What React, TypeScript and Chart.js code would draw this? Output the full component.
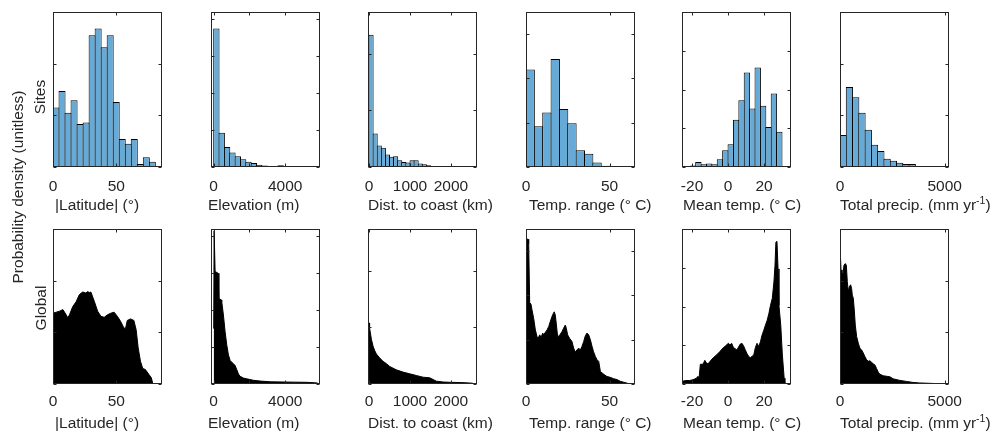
import React, { useEffect, useRef } from "react";
import { Chart, registerables } from "chart.js";

Chart.register(...registerables);

const FONT = '"Liberation Sans", Arial, Helvetica, sans-serif';
const AXIS_COLOR = "#262626";
const BAR_FILL = "rgb(102,170,215)";
const FONT_SIZE = 15.5;

// ---------- axis definitions ----------
const xTitles = [
  "|Latitude| (°)",
  "Elevation (m)",
  "Dist. to coast (km)",
  "Temp. range (° C)",
  "Mean temp. (° C)",
  "Total precip. (mm yr",
];
const xTitleSup = ["", "", "", "", "", "-1"];
const xTitleTail = ["", "", "", "", "", ")"];
const xMins = [0, -150, -25, 0, -25.6, 0];
const xMaxs = [86, 5950, 2635, 65.2, 35, 5205];
const xTickValues = [
  [0, 50],
  [0, 2000, 4000],
  [0, 1000, 2000],
  [0, 50],
  [-20, 0, 20],
  [0, 5000],
];
const xTickLabels = [
  ["0", "50"],
  ["0", "", "4000"],
  ["0", "1000", "2000"],
  ["0", "50"],
  ["-20", "0", "20"],
  ["0", "5000"],
];
const yMaxs = [3, 4.2, 2.74, 3.5, 4, 3];

// ---------- Sites histograms (bin start, bin width, heights) ----------
const siteBinStarts = [0, 0, 0, 0, -21, 0];
const siteBinWidths = [4.75, 300, 100, 5, 3, 300];
const latSites = [1.15, 1.47, 1.05, 1.29, 0.83, 0.86, 2.55, 2.68, 2.32, 2.55, 1.26, 0.54, 0.45, 0.54, 0.06, 0.19, 0.1];
const elevSites = [3.75, 0.93, 0.54, 0.39, 0.29, 0.21, 0.14, 0.11, 0.06, 0.04, 0.03, 0.02, 0.045, 0.02, 0.01, 0.01, 0.008, 0.005];
const coastSites = [2.34, 0.59, 0.38, 0.34, 0.22, 0.18, 0.19, 0.12, 0.09, 0.08, 0.12, 0.12, 0.06, 0.05, 0.03, 0.012, 0.012, 0.006, 0.018, 0.006, 0.006, 0.003, 0.003, 0.006, 0.003];
const rangeSites = [2.2, 0.92, 1.23, 2.44, 1.31, 0.99, 0.38, 0.3, 0.1, 0.03, 0.015, 0.015];
const meanSites = [0.04, 0.13, 0.07, 0.09, 0.07, 0.2, 0.43, 0.59, 1.22, 1.72, 2.44, 1.51, 2.57, 1.58, 1.03, 1.9, 0.91];
const precipSites = [0.62, 1.55, 1.35, 1.05, 0.72, 0.43, 0.31, 0.16, 0.12, 0.08, 0.06, 0.06];
const siteHeights = [latSites, elevSites, coastSites, rangeSites, meanSites, precipSites];

// ---------- Global densities ----------
const latGlobalX = [0, 2.6, 5.2, 7.8, 10.4, 11.7, 13, 15.6, 18.2, 20.8, 23.4, 26, 27.3, 28.6, 29.9, 32.6, 35.2, 37.8, 40.4, 43, 45.6, 48.2, 50.8, 53.4, 56, 57.3, 58.6, 61.2, 63.8, 65.6, 67.2, 69, 70.8, 72.9, 75.5, 77.6, 78.6, 79.4];
const latGlobalY = [1.37, 1.39, 1.41, 1.44, 1.34, 1.28, 1.34, 1.5, 1.59, 1.73, 1.78, 1.76, 1.79, 1.77, 1.78, 1.6, 1.41, 1.31, 1.29, 1.34, 1.37, 1.39, 1.31, 1.21, 1.08, 1.08, 1.23, 1.26, 1.23, 1.05, 0.7, 0.44, 0.3, 0.28, 0.19, 0.12, 0.02, 0];

const elevGlobalX = [0, 25, 55, 80, 250, 290, 420, 451, 545, 638, 732, 825, 919, 1012, 1106, 1199, 1292, 1386, 1479, 1666, 1853, 2227, 2600, 3160, 4466, 5213, 5773, 5923];
const elevGlobalY = [1.5, 4.15, 4.15, 3.05, 3.0, 2.32, 2.28, 2.23, 1.87, 1.42, 1.06, 0.79, 0.64, 0.59, 0.55, 0.5, 0.39, 0.27, 0.21, 0.16, 0.14, 0.1, 0.08, 0.06, 0.05, 0.045, 0.03, 0];

const coastGlobalX = [0, 10, 17, 58, 98, 139, 180, 261, 342, 424, 505, 586, 667, 830, 993, 1155, 1318, 1480, 1562, 1643, 1806, 1968, 2293, 2456, 2537, 2578];
const coastGlobalY = [1.08, 1.05, 0.99, 0.79, 0.67, 0.59, 0.53, 0.46, 0.4, 0.36, 0.31, 0.28, 0.25, 0.21, 0.18, 0.15, 0.12, 0.11, 0.08, 0.05, 0.035, 0.03, 0.024, 0.018, 0.012, 0];

const rangeGlobalX = [0, 0.6, 1.2, 1.6, 2.2, 3.0, 3.6, 4.6, 5.6, 6.6, 7.2, 8.2, 9.0, 10.0, 10.6, 11.6, 12.6, 13.6, 14.6, 15.9, 16.9, 17.5, 18.1, 18.9, 19.9, 21.5, 22.5, 23.5, 24.1, 24.9, 26.1, 27.5, 28.5, 29.5, 30.5, 31.5, 32.5, 33.5, 34.5, 35.5, 36.5, 37.5, 38.5, 39.5, 40.4, 41.5, 42.5, 43.5, 44.5, 46.5, 48.4, 50.4, 52.4, 54.4, 56.4, 58.4, 60.4, 61.4];
const rangeGlobalY = [1.22, 3.27, 3.27, 3.17, 1.84, 1.8, 1.67, 1.48, 1.22, 1.07, 1.03, 1.11, 1.05, 1.15, 1.11, 1.17, 1.22, 1.3, 1.42, 1.56, 1.63, 1.56, 1.37, 1.07, 1.09, 1.18, 1.26, 1.33, 1.26, 1.11, 1.03, 0.96, 0.81, 0.72, 0.77, 0.81, 0.77, 0.85, 0.96, 1.09, 1.15, 1.11, 1.0, 0.85, 0.73, 0.62, 0.55, 0.51, 0.28, 0.22, 0.17, 0.15, 0.12, 0.1, 0.06, 0.04, 0.02, 0];

const meanGlobalX = [-25.5, -23.3, -21.4, -19.5, -17.6, -16.7, -16.1, -15.4, -13.9, -12.9, -12.0, -11.1, -10.1, -8.2, -6.4, -4.5, -2.6, -1.7, -0.8, 0.2, 1.1, 2.0, 3.0, 4.9, 6.8, 7.7, 8.6, 9.6, 10.5, 11.5, 12.4, 14.3, 15.2, 16.1, 17.1, 18.0, 18.9, 19.9, 20.8, 21.8, 22.7, 23.6, 24.6, 25.5, 26.1, 26.6, 27.2, 27.8, 28.3, 29.3, 30.2, 31.2, 31.6];
const meanGlobalY = [0.07, 0.09, 0.09, 0.11, 0.15, 0.2, 0.15, 0.51, 0.51, 0.61, 0.54, 0.52, 0.58, 0.68, 0.75, 0.84, 0.94, 0.97, 1.01, 1.05, 1.01, 1.05, 0.94, 0.88, 1.03, 1.05, 0.99, 0.88, 0.79, 0.71, 0.68, 0.75, 0.94, 1.05, 0.97, 1.09, 1.26, 1.39, 1.52, 1.65, 1.82, 2.03, 2.21, 2.63, 3.06, 3.66, 3.68, 2.97, 2.03, 1.52, 0.75, 0.15, 0];

const precipGlobalX = [0, 16, 48, 95, 143, 190, 254, 302, 349, 397, 444, 508, 555, 587, 635, 682, 730, 794, 873, 952, 1032, 1111, 1190, 1270, 1349, 1428, 1508, 1587, 1666, 1746, 1825, 1904, 2063, 2222, 2380, 2539, 2857, 3174, 3491, 3809, 4285, 4761, 5158];
const precipGlobalY = [2.11, 2.53, 2.21, 2.17, 2.11, 2.3, 2.33, 2.3, 1.98, 1.79, 1.88, 1.92, 1.85, 1.72, 1.66, 1.43, 1.14, 0.92, 0.79, 0.69, 0.66, 0.6, 0.53, 0.47, 0.44, 0.45, 0.42, 0.39, 0.37, 0.3, 0.23, 0.19, 0.16, 0.15, 0.14, 0.1, 0.07, 0.05, 0.03, 0.02, 0.013, 0.006, 0];

const globalXs = [latGlobalX, elevGlobalX, coastGlobalX, rangeGlobalX, meanGlobalX, precipGlobalX];
const globalYs = [latGlobalY, elevGlobalY, coastGlobalY, rangeGlobalY, meanGlobalY, precipGlobalY];

// ---------- layout ----------
const BOX_LEFTS = [53, 211, 368, 526, 682, 840];
const TITLE_LEFTS = [55, 208, 368, 529, 683, 840];
const BOX_W = 109;
const SIDE = 30;
const ROWS = [
  { top: 0, height: 217, padTop: 12, axisH: 50, labelPad: 10, titleY: 205 },
  { top: 219, height: 216, padTop: 10, axisH: 51, labelPad: 8, titleY: 423 },
];

const inwardTicks = {
  id: "inwardTicks",
  afterDatasetsDraw(chart: any, _args: any, opts: any) {
    const { ctx, chartArea: a, scales } = chart;
    const xs = scales.x;
    const ys = scales.y;
    const L = Math.round(a.left) + 0.5;
    const R = Math.round(a.right) - 0.5;
    const T = Math.round(a.top) + 0.5;
    const B = Math.round(a.bottom) - 0.5;
    const len = 3;
    ctx.save();
    ctx.strokeStyle = AXIS_COLOR;
    ctx.lineWidth = 1;
    ctx.beginPath();
    for (const v of opts.xTicks) {
      const px = Math.round(xs.getPixelForValue(v)) + 0.5;
      ctx.moveTo(px, B);
      ctx.lineTo(px, B - len);
      ctx.moveTo(px, T);
      ctx.lineTo(px, T + len);
    }
    for (let v = 0; v <= opts.yMax + 1e-9; v += 1) {
      const py = Math.round(ys.getPixelForValue(v)) + 0.5;
      ctx.moveTo(L, py);
      ctx.lineTo(L + len, py);
      ctx.moveTo(R, py);
      ctx.lineTo(R - len, py);
    }
    ctx.stroke();
    ctx.strokeRect(L, T, R - L, B - T);
    ctx.restore();
  },
};

function Panel({ col, row }: { col: number; row: number }) {
  const ref = useRef<HTMLCanvasElement | null>(null);
  const g = ROWS[row];
  const W = BOX_W + 2 * SIDE;
  const H = g.height;

  useEffect(() => {
    if (!ref.current) return;
    const xmin = xMins[col];
    const xmax = xMaxs[col];
    const ticks = xTickValues[col];
    const labels = xTickLabels[col];
    let dataset: any;
    let type: any;
    if (row === 0) {
      type = "bar";
      const start = siteBinStarts[col];
      const width = siteBinWidths[col];
      const binPx = (width * BOX_W) / (xmax - xmin);
      dataset = {
        data: siteHeights[col].map((h, i) => ({ x: start + width * (i + 0.5), y: h })),
        backgroundColor: BAR_FILL,
        borderColor: "#000",
        borderWidth: 1,
        borderSkipped: false,
        barPercentage: 1 + 1 / binPx,
        categoryPercentage: 1,
      };
    } else {
      type = "line";
      dataset = {
        data: globalXs[col].map((x, i) => ({ x, y: globalYs[col][i] })),
        backgroundColor: "#000",
        borderColor: "#000",
        borderWidth: 1,
        pointRadius: 0,
        tension: 0,
        fill: "origin",
      };
    }
    const font = { family: FONT, size: FONT_SIZE, lineHeight: 1.2 };
    const chart = new Chart(ref.current, {
      type,
      data: { datasets: [dataset] },
      plugins: [inwardTicks],
      options: {
        responsive: false,
        animation: false,
        events: [],
        layout: { padding: { left: SIDE, right: SIDE, top: g.padTop, bottom: 0 } },
        plugins: {
          legend: { display: false },
          tooltip: { enabled: false },
          inwardTicks: { xTicks: ticks, yMax: yMaxs[col] },
        } as any,
        scales: {
          x: {
            type: "linear",
            min: xmin,
            max: xmax,
            offset: false,
            grid: { display: false, drawTicks: false, tickLength: 0 },
            border: { display: false },
            afterBuildTicks: (s: any) => {
              s.ticks = ticks.map((v) => ({ value: v }));
            },
            afterFit: (s: any) => {
              s.height = g.axisH;
            },
            ticks: {
              autoSkip: false,
              maxRotation: 0,
              minRotation: 0,
              padding: g.labelPad,
              color: AXIS_COLOR,
              font,
              callback: (_v: any, i: number) => labels[i],
            },
            title: { display: false },
          },
          y: {
            type: "linear",
            display: false,
            min: 0,
            max: yMaxs[col],
          },
        },
      } as any,
    });
    return () => chart.destroy();
  }, [col, row]);

  return (
    <>
      <canvas
        ref={ref}
        width={W}
        height={H}
        style={{ position: "absolute", left: BOX_LEFTS[col] - SIDE, top: g.top, width: W, height: H }}
      />
      <div
        style={{
          position: "absolute",
          left: TITLE_LEFTS[col],
          top: g.titleY - 9,
          height: 18,
          lineHeight: "18px",
          whiteSpace: "nowrap",
          fontFamily: FONT,
          fontSize: FONT_SIZE,
          color: AXIS_COLOR,
        }}
      >
        {xTitles[col]}
        {xTitleSup[col] ? (
          <span style={{ fontSize: 10.5, position: "relative", top: -6 }}>{xTitleSup[col]}</span>
        ) : null}
        {xTitleTail[col]}
      </div>
    </>
  );
}

const vLabelStyle = (cx: number, cy: number): React.CSSProperties => ({
  position: "absolute",
  left: cx,
  top: cy,
  transform: "translate(-50%, -50%) rotate(-90deg)",
  whiteSpace: "nowrap",
  fontFamily: FONT,
  fontSize: FONT_SIZE,
  lineHeight: "18px",
  color: AXIS_COLOR,
});

export default function App() {
  const cols = [0, 1, 2, 3, 4, 5];
  return (
    <div style={{ position: "absolute", left: 0, top: 0, width: 992, height: 435, background: "#fff", overflow: "hidden" }}>
      {cols.map((c) => (
        <Panel key={"s" + c} col={c} row={0} />
      ))}
      {cols.map((c) => (
        <Panel key={"g" + c} col={c} row={1} />
      ))}
      <div style={vLabelStyle(18, 187)}>Probability density (unitless)</div>
      <div style={vLabelStyle(40, 97)}>Sites</div>
      <div style={vLabelStyle(41, 308)}>Global</div>
    </div>
  );
}
